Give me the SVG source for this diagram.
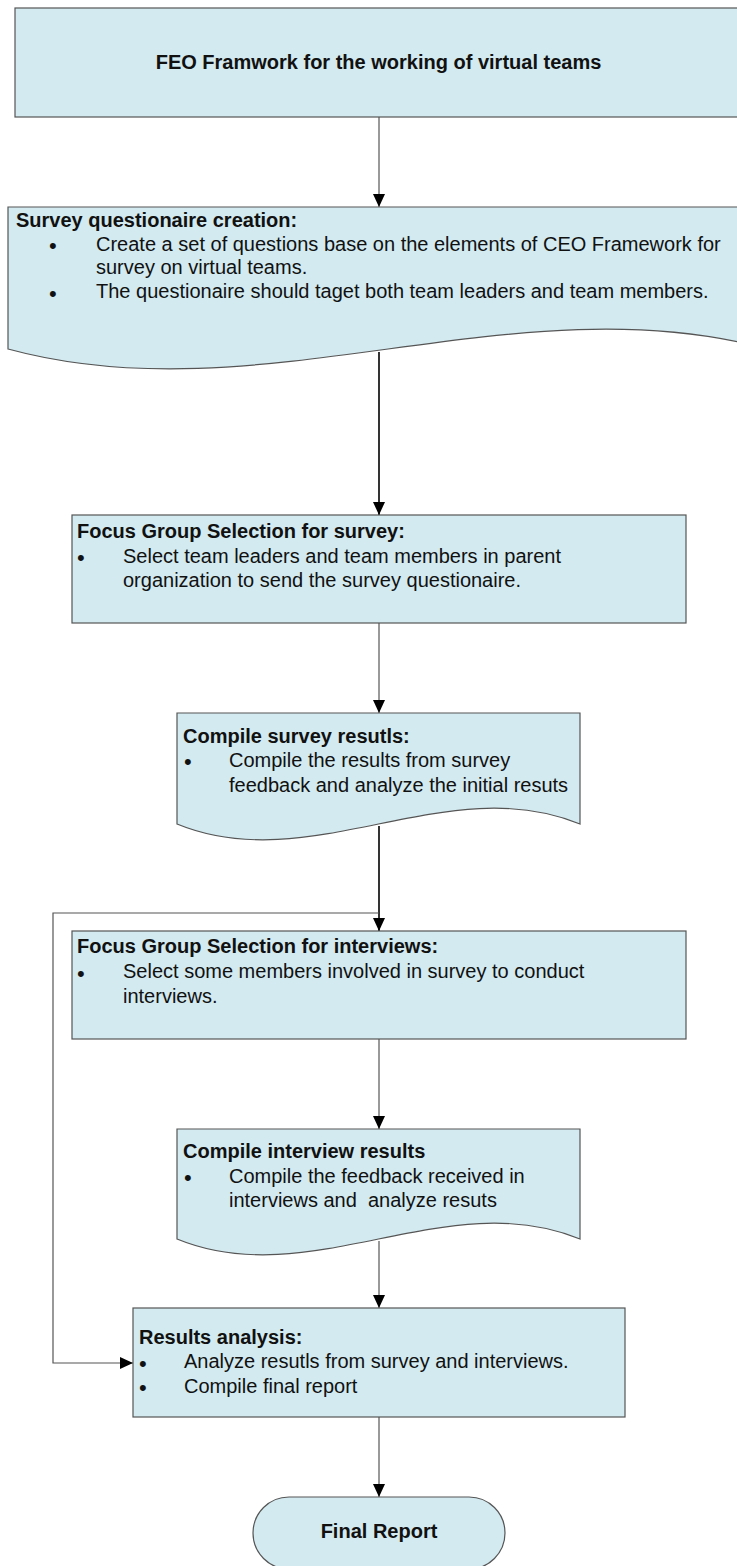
<svg xmlns="http://www.w3.org/2000/svg" width="737" height="1566" viewBox="0 0 737 1566">
  <style>
    .box { fill: #D2EAF0; stroke: #555; stroke-width: 1.2; }
    .t { font-family: "Liberation Sans", Arial, sans-serif; font-size: 20px; fill: #111; }
    .b { font-weight: bold; }
    .c { text-anchor: middle; }
    .dot { font-size: 22px; }
    .link { fill: none; stroke: #555; stroke-width: 1.2; }
    .link.strong { stroke: #000; stroke-width: 1.6; }
  </style>
  <defs>
    <marker id="arrow" markerUnits="userSpaceOnUse" markerWidth="13" markerHeight="12" refX="13" refY="6" orient="auto">
      <path d="M0,0 L13,6 L0,12 Z" fill="#000"/>
    </marker>
  </defs>

  <rect width="737" height="1566" fill="#fff"/>

  <!-- connectors -->
  <g id="connectors">
    <path class="link" d="M379,117 V207" marker-end="url(#arrow)"/>
    <path class="link strong" d="M379,352 V515" marker-end="url(#arrow)"/>
    <path class="link" d="M379,623 V713" marker-end="url(#arrow)"/>
    <path class="link strong" d="M379,826 V931" marker-end="url(#arrow)"/>
    <path class="link" d="M379,913 H53 V1363 H133" marker-end="url(#arrow)"/>
    <path class="link" d="M379,1039 V1129" marker-end="url(#arrow)"/>
    <path class="link" d="M379,1241 V1308" marker-end="url(#arrow)"/>
    <path class="link" d="M379,1417 V1497" marker-end="url(#arrow)"/>
  </g>

  <!-- framework -->
  <g id="node-framework">
    <rect class="box" x="15" y="8" width="740" height="109"/>
    <text class="t b c" x="378.5" y="69">FEO Framwork for the working of virtual teams</text>
  </g>

  <!-- questionnaire creation (document shape, wavy bottom) -->
  <g id="node-questionnaire">
    <path class="box" d="M8,207 H768 V349 C514.7,280 261.3,418 8,349 Z"/>
    <text class="t b" x="16" y="227">Survey questionaire creation:</text>
    <text class="t dot" x="49" y="253">•</text>
    <text class="t" x="96" y="250.7">Create a set of questions base on the elements of CEO Framework for</text>
    <text class="t" x="96" y="274.3">survey on virtual teams.</text>
    <text class="t dot" x="49" y="300.5">•</text>
    <text class="t" x="96" y="298">The questionaire should taget both team leaders and team members.</text>
  </g>

  <!-- focus group for survey -->
  <g id="node-focus-survey">
    <rect class="box" x="72" y="515" width="614" height="108"/>
    <text class="t b" x="77" y="537.5">Focus Group Selection for survey:</text>
    <text class="t dot" x="77" y="565">•</text>
    <text class="t" x="123" y="562.5">Select team leaders and team members in parent</text>
    <text class="t" x="123" y="586.5">organization to send the survey questionaire.</text>
  </g>

  <!-- compile survey results (document shape) -->
  <g id="node-compile-survey">
    <path class="box" d="M177,713 H580 V824 C445.7,769 311.3,879 177,824 Z"/>
    <text class="t b" x="183" y="742.7">Compile survey resutls:</text>
    <text class="t dot" x="184" y="769">•</text>
    <text class="t" x="229" y="766.7">Compile the results from survey</text>
    <text class="t" x="229" y="791.7">feedback and analyze the initial resuts</text>
  </g>

  <!-- focus group for interviews -->
  <g id="node-focus-interviews">
    <rect class="box" x="72" y="931" width="614" height="108"/>
    <text class="t b" x="77" y="953.3">Focus Group Selection for interviews:</text>
    <text class="t dot" x="77" y="980.8">•</text>
    <text class="t" x="123" y="978.3">Select some members involved in survey to conduct</text>
    <text class="t" x="123" y="1003.3">interviews.</text>
  </g>

  <!-- compile interview results (document shape) -->
  <g id="node-compile-interviews">
    <path class="box" d="M177,1129 H580 V1239 C445.7,1184 311.3,1294 177,1239 Z"/>
    <text class="t b" x="183" y="1158.3">Compile interview results</text>
    <text class="t dot" x="184" y="1185.2">•</text>
    <text class="t" x="229" y="1182.7">Compile the feedback received in</text>
    <text class="t" x="229" y="1206.7" xml:space="preserve">interviews and  analyze resuts</text>
  </g>

  <!-- results analysis -->
  <g id="node-results">
    <rect class="box" x="133" y="1308" width="492" height="109"/>
    <text class="t b" x="139" y="1344">Results analysis:</text>
    <text class="t dot" x="139" y="1370.8">•</text>
    <text class="t" x="184" y="1368.3">Analyze resutls from survey and interviews.</text>
    <text class="t dot" x="139" y="1395.2">•</text>
    <text class="t" x="184" y="1392.7">Compile final report</text>
  </g>

  <!-- final report terminator -->
  <g id="node-final">
    <rect class="box" x="253" y="1497" width="252" height="72" rx="36" ry="36"/>
    <text class="t b c" x="379" y="1538">Final Report</text>
  </g>
</svg>
